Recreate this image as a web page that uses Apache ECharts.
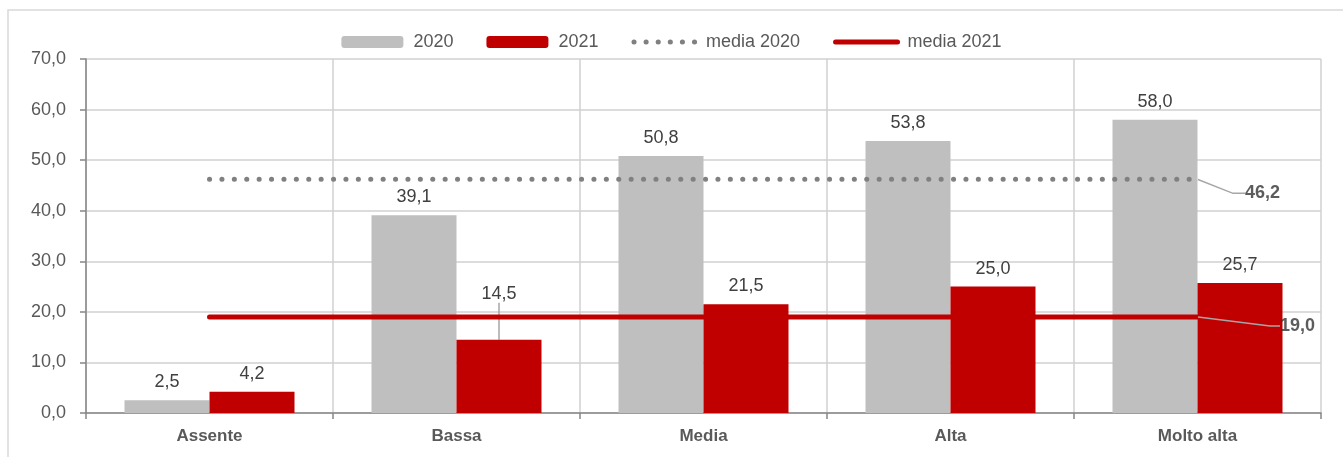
<!DOCTYPE html>
<html>
<head>
<meta charset="utf-8">
<script src="https://cdn.jsdelivr.net/npm/echarts@6/dist/echarts.min.js"></script>
<style>
  html, body { margin: 0; padding: 0; background: #fff; }
  #chart { width: 1343px; height: 457px; }
</style>
</head>
<body>
<div id="chart"></div>
<script>
// Livello di criticità: valori percentuali 2020 vs 2021 e relative medie
const categories = ['Assente', 'Bassa', 'Media', 'Alta', 'Molto alta'];
const values2020 = [2.5, 39.1, 50.8, 53.8, 58.0];
const values2021 = [4.2, 14.5, 21.5, 25.0, 25.7];
const media2020 = [46.2, 46.2, 46.2, 46.2, 46.2];
const media2021 = [19.0, 19.0, 19.0, 19.0, 19.0];
const yTickValues = [0, 10, 20, 30, 40, 50, 60, 70];

const FONT = "'Liberation Sans Narrow', 'Arial Narrow', 'Liberation Sans', Arial, sans-serif";
const fmt = v => Number(Array.isArray(v) ? v[1] : v).toFixed(1).replace('.', ',');
const lastCat = categories[categories.length - 1];
const CLEAR = 'rgba(0,0,0,0)';

const chart = echarts.init(document.getElementById('chart'), null, { renderer: 'canvas' });

const valueLabel = {
  show: true, position: 'top', distance: 9,
  fontFamily: FONT, fontSize: 18, color: '#404040',
  formatter: p => fmt(p.value)
};
const meanLabel = {
  show: true, position: 'right', distance: 5,
  padding: [0, 0, 0, 7],
  fontFamily: FONT, fontSize: 18, fontWeight: 'bold', color: '#333333',
  formatter: p => fmt(p.value)
};
const guide = { color: '#a6a6a6', width: 1.5 };

chart.setOption({
  animation: false,
  backgroundColor: '#ffffff',
  textStyle: { fontFamily: FONT },
  graphic: [{
    type: 'rect',
    shape: { x: 8, y: 10, width: 1500, height: 600 },
    style: { fill: 'none', stroke: '#d9d9d9', lineWidth: 1.5 },
    silent: true,
    z: -10
  }],
  legend: {
    top: 28,
    left: 'center',
    itemWidth: 62,
    itemHeight: 12,
    itemGap: 33,
    textStyle: { fontFamily: FONT, fontSize: 18, color: '#595959', padding: [0, 0, 0, 5] },
    data: [
      { name: '2020' },
      { name: '2021' },
      { name: 'media 2020', itemStyle: { color: CLEAR, borderWidth: 0 },
        lineStyle: { width: 5, type: [0.1, 12], cap: 'round' } },
      { name: 'media 2021', itemStyle: { color: CLEAR, borderWidth: 0 },
        lineStyle: { width: 5, cap: 'round' } }
    ]
  },
  grid: { left: 86, right: 22, top: 59, bottom: 44, containLabel: false },
  xAxis: {
    type: 'category',
    data: categories,
    boundaryGap: true,
    axisLine: { lineStyle: { color: '#868686', width: 1.5 } },
    axisTick: { show: true, length: 6, lineStyle: { color: '#868686', width: 1.5 } },
    splitLine: { show: true, lineStyle: { color: '#d0d0d0', width: 1.5 } },
    axisLabel: { fontFamily: FONT, fontSize: 17, fontWeight: 'bold', color: '#595959', margin: 15 }
  },
  yAxis: {
    type: 'value',
    min: yTickValues[0],
    max: yTickValues[yTickValues.length - 1],
    interval: 10,
    axisLine: { show: true, lineStyle: { color: '#868686', width: 1.5 } },
    axisTick: { show: true, length: 6, lineStyle: { color: '#868686', width: 1.5 } },
    splitLine: { show: true, lineStyle: { color: '#d0d0d0', width: 1.5 } },
    axisLabel: { fontFamily: FONT, fontSize: 18, color: '#595959', margin: 20, formatter: fmt }
  },
  series: [
    {
      name: '2020',
      type: 'bar',
      data: values2020,
      barWidth: 85,
      barGap: '0%',
      itemStyle: { color: '#bfbfbf' },
      label: valueLabel,
      z: 2
    },
    {
      name: '2021',
      type: 'bar',
      // the "Bassa" label is lifted above the 2021 mean line, with a guide line
      data: values2021.map((v, i) => i === 1
        ? { value: v, labelLine: { show: true, length2: 0, lineStyle: guide } }
        : v),
      barWidth: 85,
      barGap: '0%',
      itemStyle: { color: '#c00000' },
      label: valueLabel,
      labelLayout: p => p.dataIndex === 1 ? { dy: -28 } : {},
      labelLine: { show: false },
      z: 2
    },
    {
      name: 'media 2020',
      type: 'line',
      data: media2020,
      symbol: 'none',
      showSymbol: false,
      lineStyle: { color: '#808080', width: 5, type: [0.1, 12.3], cap: 'round' },
      itemStyle: { color: '#808080' },
      z: 5
    },
    {
      name: 'media 2021',
      type: 'line',
      data: media2021,
      symbol: 'none',
      showSymbol: false,
      lineStyle: { color: '#c00000', width: 5, cap: 'round' },
      itemStyle: { color: '#c00000' },
      z: 5
    },
    // value tags at the right end of the two mean lines
    {
      name: 'etichetta media 2020',
      type: 'scatter',
      data: [[lastCat, media2020[media2020.length - 1]]],
      symbolSize: 1,
      itemStyle: { color: CLEAR },
      label: meanLabel,
      labelLayout: () => ({ dx: 35, dy: 14 }),
      labelLine: { show: true, length2: 12, lineStyle: guide },
      silent: true,
      z: 6
    },
    {
      name: 'etichetta media 2021',
      type: 'scatter',
      data: [[lastCat, media2021[media2021.length - 1]]],
      symbolSize: 1,
      itemStyle: { color: CLEAR },
      label: meanLabel,
      labelLayout: () => ({ dx: 70, dy: 9 }),
      labelLine: { show: true, length2: 10, lineStyle: guide },
      silent: true,
      z: 6
    }
  ]
});
</script>
</body>
</html>
